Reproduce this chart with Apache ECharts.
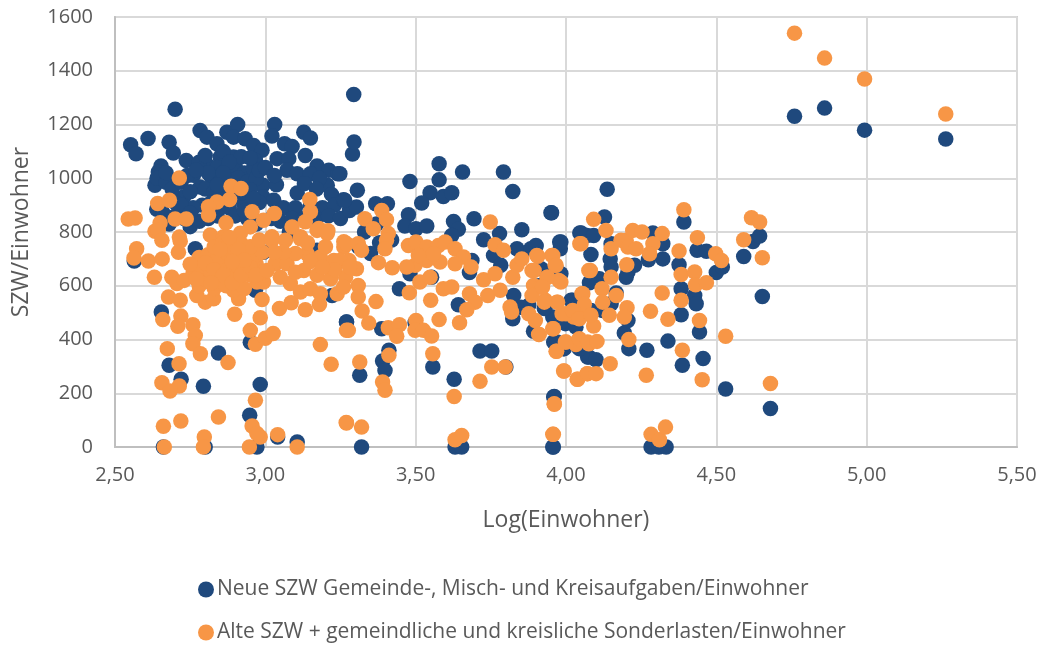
<!DOCTYPE html>
<html>
<head>
<meta charset="utf-8">
<title>SZW/Einwohner</title>
<script src="https://cdn.jsdelivr.net/npm/echarts@6/dist/echarts.min.js"></script>
<style>
  html, body { margin: 0; padding: 0; background: #fff; }
  #chart { width: 1043px; height: 648px; }
</style>
</head>
<body>
<div id="chart"></div>
<script>
// values: [Log(Einwohner), SZW/Einwohner]
const neueSzwLinks = [
  [2.70,1257],[2.552,1125],[2.57,1091],[2.61,1148],[2.68,1134],[2.694,1094],[2.737,1066],[2.653,1046],[2.644,1023],[2.633,974],
  [2.639,885],[2.783,1178],[2.806,1153],[2.839,1128],[2.872,1171],[2.908,1200],[2.894,1153],[2.933,1147],[2.961,1122],[2.989,1104],
  [2.967,1066],[2.85,1079],[2.894,1079],[2.811,1046],[2.761,1011],[2.783,967],[2.728,930],[2.928,906],[2.992,974],[2.992,930],
  [2.84,1040],[2.87,1030],[2.90,1045],[2.93,1020],[2.96,1035],[2.82,1005],[2.85,1000],[2.88,985],[2.91,1000],[2.94,985],
  [2.97,1000],[2.80,960],[2.83,950],[2.86,960],[2.89,950],[2.92,945],[2.95,955],[2.98,910],[2.79,900],[2.82,910],
  [2.85,900],[2.88,890],[2.76,890],[2.73,850],[2.70,860],[2.66,870],[2.68,830],[2.75,820],[2.78,840],[2.81,850],
  [2.90,860],[2.94,850],[2.97,830],[2.64,1000],[2.67,985],[2.69,960],[2.72,985],[2.70,910],[2.67,1020],[2.75,950],
  [2.78,1060],[2.74,1010],[2.564,692],[2.654,502],[2.68,304],[2.72,252],[2.794,226],[2.844,350],[2.983,233],[2.948,118],
  [2.95,390],[2.972,0],[3.106,19],[2.661,0],[2.8,0],[3.041,37],[3.27,465],[2.967,583],[3.222,564],[2.767,738],[2.994,725],[3.172,732],
  [2.86,1100],[2.92,1080],[2.95,1075],[2.88,1060],[2.81,1020],[2.98,1030],[2.86,1020],[2.90,970],[2.96,925],[2.84,975],
  [2.77,1030],[2.80,1085],[2.72,900],[2.75,870],[2.84,860],[2.87,925],[2.93,880]
];
const neueSzwMitte = [
  [3.031,1200],[3.022,1157],[3.128,1171],[3.15,1150],[3.064,1128],[3.089,1118],[3.039,1073],[3.078,1073],[3.133,1085],[3.172,1046],
  [3.211,1030],[3.241,1017],[3.072,1030],[3.106,1017],[3.15,1017],[3.206,974],[3.037,976],[3.106,945],[3.028,918],[3.00,1040],
  [3.03,1010],[3.18,1000],[3.13,980],[3.17,960],[3.22,940],[3.06,890],[3.10,890],[3.15,900],[3.19,890],[3.23,900],
  [3.26,920],[3.02,850],[3.05,840],[3.09,850],[3.13,850],[3.17,850],[3.21,860],[3.25,850],[3.28,880],[3.08,800],
  [3.29,1090],[3.295,1135],[3.294,1312],[3.306,955],[3.248,1017],[3.481,988],[3.578,1054],[3.578,994],[3.656,1023],[3.792,1023],
  [3.823,951],[3.548,946],[3.52,908],[3.592,932],[3.62,946],[3.95,872],[3.367,905],[3.406,905],[3.303,893],[3.264,918],
  [3.476,864],[3.464,822],[3.501,812],[3.537,822],[3.626,839],[3.642,810],[3.62,787],[3.694,849],[3.726,771],[3.779,794],
  [3.853,808],[3.759,713],[3.783,676],[3.837,738],[3.9,746],[3.979,763],[3.981,738],[4.046,796],[4.07,787],[3.446,589],
  [3.553,632],[3.481,645],[3.687,694],[3.679,649],[3.642,529],[3.826,564],[3.823,477],[3.876,527],[3.892,431],[3.931,521],
  [3.959,391],[3.992,366],[4.048,378],[4.076,335],[4.017,546],[3.998,459],[3.387,440],[3.27,465],[3.498,462],[3.411,360],
  [3.39,320],[3.398,285],[3.314,267],[3.714,357],[3.753,357],[3.8,298],[3.557,298],[3.628,252],[3.959,186],[3.32,0],
  [3.631,0],[3.653,0],[3.956,0],[3.33,800],[3.37,830],[3.42,770],[3.38,760],[3.35,720],[3.31,745],[3.85,520],[3.91,600],[3.94,650]
];
const neueSzwRechts = [
  [4.137,959],[3.952,872],[4.128,856],[4.05,796],[4.092,787],[3.983,763],[4.15,756],[4.083,716],[4.147,700],[4.15,670],
  [4.206,651],[4.228,676],[4.2,632],[4.111,626],[4.078,611],[4.167,573],[4.022,546],[4.05,558],[4.289,796],[4.322,756],
  [4.322,700],[4.274,697],[4.392,837],[4.436,732],[4.467,728],[4.376,678],[4.383,589],[4.428,564],[4.433,533],[4.383,492],
  [4.444,428],[4.339,394],[4.209,366],[4.194,424],[4.206,471],[4.269,360],[4.387,304],[4.456,329],[4.531,216],[4.591,709],
  [4.622,765],[4.644,785],[4.5,649],[4.52,670],[4.653,560],[4.68,143],[3.961,188],[3.958,0],[4.283,0],[4.309,0],
  [4.333,0],[4.072,335],[4.1,325],[4.044,366],[3.97,391],[3.994,366],[3.994,471],[4.033,446],[3.956,484],[3.928,515],
  [3.883,738],[3.9,750],[3.983,645],[3.917,663],[4.122,508],[4.15,533],[4.083,508],[4.76,1231],[4.86,1261],[4.993,1179],[5.263,1146]
];
const neueSzw = neueSzwLinks.concat(neueSzwMitte, neueSzwRechts);

const alteSzwLinks = [
  [2.714,1001],[2.642,906],[2.681,918],[2.544,848],[2.567,852],[2.7,848],[2.737,848],[2.65,834],[2.633,803],[2.886,970],
  [2.919,962],[2.881,921],[2.839,912],[2.811,894],[2.811,863],[2.956,875],[2.869,834],[3.03,869],[2.994,844],[3.148,921],
  [3.15,875],[3.133,838],[3.089,819],[3.178,813],[3.208,805],[2.817,789],[2.861,782],[2.95,819],[2.917,795],[3.022,782],
  [3.117,782],[2.714,781],[3.261,764],[2.572,738],[2.563,703],[2.611,692],[2.657,700],[2.631,632],[2.644,806],[2.656,769],
  [2.717,766],[2.711,725],[2.678,558],[2.717,546],[2.689,632],[2.706,608],[2.659,474],[2.719,487],[2.709,449],[2.759,455],
  [2.767,415],[2.759,384],[2.674,366],[2.784,347],[2.876,314],[2.713,310],[2.656,239],[2.714,227],[2.683,208],[2.661,77],
  [2.719,97],[2.844,112],[2.797,37],[2.794,0],[2.664,0],[2.967,174],[2.956,78],[2.983,37],[2.972,50],[2.947,0],
  [3.041,46],[3.106,0],[3.269,91],[3.219,308],[3.183,381],[3.27,434],[2.898,494],[2.983,481],[2.95,434],[2.967,382],
  [3.0,405],[3.026,422],[2.989,549],[3.047,515],[3.086,537],[3.133,511],[3.18,530],[3.239,570],[2.8,539],[2.828,552],
  [2.772,564],[2.911,552],[2.894,583],[2.972,614],[2.994,614],[2.78,600],[2.80,625],[2.83,590],[2.85,620],[2.87,600],
  [2.90,625],[2.93,590],[2.95,640],[2.76,650],[2.79,665],[2.82,650],[2.85,680],[2.88,650],[2.91,670],[2.94,660],
  [2.97,680],[2.99,650],[2.78,705],[2.81,715],[2.84,700],[2.87,725],[2.90,705],[2.93,720],[2.96,705],[2.99,725],
  [2.83,745],[2.86,760],[2.89,745],[2.92,755],[2.95,745],[2.98,770],[2.88,780],[2.91,735],[2.75,680],[2.73,620],
  [2.80,685],[2.83,660],[2.86,640],[2.89,610],[2.92,640],[2.95,670],[2.97,640],[2.82,610],[2.77,625],[2.93,695],[2.89,690],[2.85,735]
];
const alteSzwMitte = [
  [3.022,769],[3.067,769],[3.117,775],[3.172,806],[3.206,794],[3.139,719],[3.183,707],[3.228,694],[3.261,744],[3.278,694],
  [3.033,682],[3.072,682],[3.006,657],[3.128,657],[3.172,639],[3.217,626],[3.267,632],[3.083,608],[3.117,577],[3.15,589],
  [3.183,570],[3.05,632],[3.10,720],[3.06,725],[3.14,760],[3.387,880],[3.403,846],[3.331,849],[3.359,812],[3.409,794],
  [3.403,769],[3.398,738],[3.376,686],[3.422,667],[3.303,663],[3.309,601],[3.309,558],[3.322,506],[3.344,461],[3.368,541],
  [3.276,434],[3.409,444],[3.446,455],[3.437,412],[3.501,471],[3.498,434],[3.526,434],[3.553,413],[3.578,474],[3.646,462],
  [3.55,546],[3.479,574],[3.514,614],[3.548,632],[3.592,589],[3.62,595],[3.679,570],[3.698,539],[3.67,511],[3.74,564],
  [3.726,622],[3.764,645],[3.781,583],[3.823,632],[3.837,676],[3.853,700],[3.887,657],[3.903,713],[3.953,713],[3.964,676],
  [3.937,632],[3.976,620],[3.892,601],[3.914,595],[3.887,564],[3.931,546],[3.97,539],[3.814,521],[3.819,502],[3.876,496],
  [3.898,471],[3.909,419],[3.956,440],[3.987,496],[4.026,484],[4.048,490],[3.998,391],[4.042,397],[4.076,384],[3.967,356],
  [3.992,283],[4.037,252],[4.07,273],[3.748,837],[3.764,753],[3.792,732],[4.046,756],[4.053,570],[4.076,657],[3.314,316],
  [3.411,341],[3.39,242],[3.398,211],[3.557,347],[3.753,298],[3.798,298],[3.714,245],[3.628,188],[3.961,159],[3.956,47],
  [3.27,89],[3.32,74],[3.631,27],[3.653,43],[3.476,750],[3.501,763],[3.537,744],[3.576,750],[3.598,763],[3.631,738],
  [3.659,707],[3.684,670],[3.631,682],[3.581,688],[3.537,694],[3.498,676],[3.47,670],[3.509,713],[3.559,719],[3.27,756],
  [3.309,756],[3.32,732],[3.248,694],[3.28,670],[3.26,595],[3.03,725],[3.10,650],[3.15,690],[3.20,745],[3.23,660],[3.19,670]
];
const alteSzwRechts = [
  [4.092,847],[4.133,806],[4.05,756],[4.15,738],[4.2,769],[4.222,806],[4.253,800],[4.32,794],[4.183,769],[4.206,744],
  [4.233,738],[4.289,756],[4.278,719],[4.202,678],[4.081,657],[4.15,632],[4.056,570],[4.061,531],[4.12,589],[4.122,539],
  [4.144,490],[4.167,564],[4.203,518],[4.194,484],[4.281,505],[4.32,573],[4.339,475],[4.209,400],[4.147,310],[4.267,267],
  [4.387,360],[4.383,546],[4.376,729],[4.392,883],[4.437,779],[4.383,642],[4.428,651],[4.431,604],[4.467,611],[4.444,471],
  [4.453,250],[4.531,412],[4.498,719],[4.517,694],[4.591,771],[4.617,853],[4.644,837],[4.653,704],[4.68,236],[3.994,283],
  [4.039,252],[4.072,273],[4.1,273],[3.969,356],[3.961,161],[3.958,47],[4.283,47],[4.311,27],[4.331,74],[4.0,391],
  [4.033,381],[4.044,403],[4.072,391],[4.103,393],[3.958,440],[3.911,419],[4.092,450],[4,496],[4.022,508],[4.044,477],
  [4.083,490],[3.972,539],[3.928,539],[3.906,710],[3.956,713],[3.967,676],[3.939,632],[3.983,614],[3.894,657],[3.922,595],
  [4.76,1540],[4.86,1447],[4.993,1369],[5.263,1239]
];
const alteSzw = alteSzwLinks.concat(alteSzwMitte, alteSzwRechts);

const seriesNames = [
  "Neue SZW Gemeinde-, Misch- und Kreisaufgaben/Einwohner",
  "Alte SZW + gemeindliche und kreisliche Sonderlasten/Einwohner"
];

const chart = echarts.init(document.getElementById("chart"));
const fontName = "Open Sans";
const textColor = "#595959";
const gridColor = "#d9d9d9";

chart.setOption({
    animation: false,
    grid: { left: 115, right: 26, top: 17, bottom: 201, show: true, borderColor: "#d0d0d0", borderWidth: 2 },
    legend: {
        orient: "vertical",
        left: 198,
        top: 579,
        height: 68,
        padding: 0,
        itemGap: 22,
        itemWidth: 16,
        itemHeight: 16,
        icon: "circle",
        textStyle: { color: textColor, fontFamily: fontName, fontSize: 21, padding: [0, 0, 0, -2] },
        data: seriesNames
    },
    xAxis: {
        type: "value",
        min: 2.5,
        max: 5.5,
        interval: 0.5,
        name: "Log(Einwohner)",
        nameLocation: "middle",
        nameGap: 62,
        nameTextStyle: { color: textColor, fontFamily: fontName, fontSize: 23 },
        axisLine: { show: true, lineStyle: { color: "#bfbfbf", width: 2 } },
        axisTick: { show: false },
        splitLine: { show: true, lineStyle: { color: gridColor, width: 2 } },
        axisLabel: {
            color: textColor, fontFamily: fontName, fontSize: 20, margin: 18,
            formatter: v => v.toFixed(2).replace(".", ",")
        }
    },
    yAxis: {
        type: "value",
        min: 0,
        max: 1600,
        interval: 200,
        name: "SZW/Einwohner",
        nameLocation: "middle",
        nameGap: 82,
        nameTextStyle: { color: textColor, fontFamily: fontName, fontSize: 23 },
        axisLine: { show: true, lineStyle: { color: "#bfbfbf", width: 2 } },
        axisTick: { show: false },
        splitLine: { show: true, lineStyle: { color: gridColor, width: 2 } },
        axisLabel: { color: textColor, fontFamily: fontName, fontSize: 20, margin: 22, formatter: v => String(v) }
    },
    series: [
        {
            name: seriesNames[0],
            type: "scatter",
            data: neueSzw,
            symbolSize: 15.5,
            itemStyle: { color: "#1F497D", opacity: 1 }
        },
        {
            name: seriesNames[1],
            type: "scatter",
            data: alteSzw,
            symbolSize: 15.5,
            itemStyle: { color: "#F79646", opacity: 1 }
        }
    ]
});

window.addEventListener("resize", () => chart.resize());
</script>
</body>
</html>
